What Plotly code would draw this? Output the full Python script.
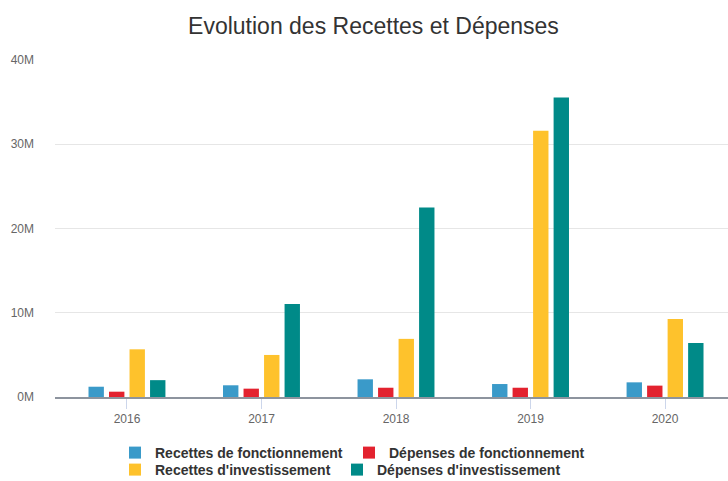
import plotly.graph_objects as go

years = ["2016", "2017", "2018", "2019", "2020"]
recettes_fonct = [1.22e6, 1.39e6, 2.1e6, 1.54e6, 1.74e6]
depenses_fonct = [0.63e6, 0.99e6, 1.1e6, 1.1e6, 1.35e6]
recettes_invest = [5.66e6, 4.99e6, 6.9e6, 31.6e6, 9.26e6]
depenses_invest = [2.0e6, 11.04e6, 22.5e6, 35.55e6, 6.41e6]

names = ["Recettes de fonctionnement", "Dépenses de fonctionnement",
         "Recettes d'investissement", "Dépenses d'investissement"]
colors = ["#3a9ac9", "#e3222f", "#fec22c", "#008a88"]
series = [recettes_fonct, depenses_fonct, recettes_invest, depenses_invest]
legends = ["legend", "legend", "legend2", "legend2"]
legend_widths = [189, 215, 177, 215]

yticks = [0, 10e6, 20e6, 30e6, 40e6]
yticktext = ["0M", "10M", "20M", "30M", "40M"]

fig = go.Figure()
for n, c, s, lg, lw in zip(names, colors, series, legends, legend_widths):
    fig.add_trace(go.Bar(x=years, y=s, name=n, marker=dict(color=c, line=dict(width=0)),
                         legend=lg, legendwidth=lw))

legend_font = dict(family="Liberation Sans, Arial, sans-serif", size=14, color="#333333",
                   weight="bold")
common_legend = dict(orientation="h", xref="container", xanchor="left", yref="container",
                     yanchor="middle", font=legend_font, itemclick=False,
                     traceorder="normal", bgcolor="rgba(0,0,0,0)", tracegroupgap=0,
                     itemwidth=30, entrywidthmode="pixels")
fig.update_layout(
    width=728, height=481,
    margin=dict(l=55, r=0, t=60, b=84),
    paper_bgcolor="white", plot_bgcolor="white",
    barmode="group", bargap=0.39, bargroupgap=0.25,
    title=dict(text="Evolution des Recettes et Dépenses", x=0.513, xref="container",
               xanchor="center", y=1 - 26 / 481, yanchor="middle",
               font=dict(family="Liberation Sans, Arial, sans-serif", size=23, color="#333333")),
    font=dict(family="Liberation Sans, Arial, sans-serif"),
    legend=dict(**common_legend, x=115 / 728, y=1 - 453 / 481),
    legend2=dict(**common_legend, x=115 / 728, y=1 - 470 / 481),
    xaxis=dict(type="category", range=[-0.535, 4.468], showgrid=False,
               showline=True, linecolor="#8d949e", linewidth=2,
               ticks="outside", ticklen=10, tickcolor="#ccd6eb", tickwidth=1,
               tickfont=dict(size=12, color="#666666")),
    yaxis=dict(range=[0, 40e6], tickvals=yticks, ticktext=yticktext,
               showgrid=True, gridcolor="#e6e6e6", gridwidth=1, zeroline=False,
               ticklabelstandoff=20,
               tickfont=dict(size=12, color="#666666")),
)

fig.write_html("out.html", config={"displayModeBar": False},
               post_script="document.body.style.margin='0';")
